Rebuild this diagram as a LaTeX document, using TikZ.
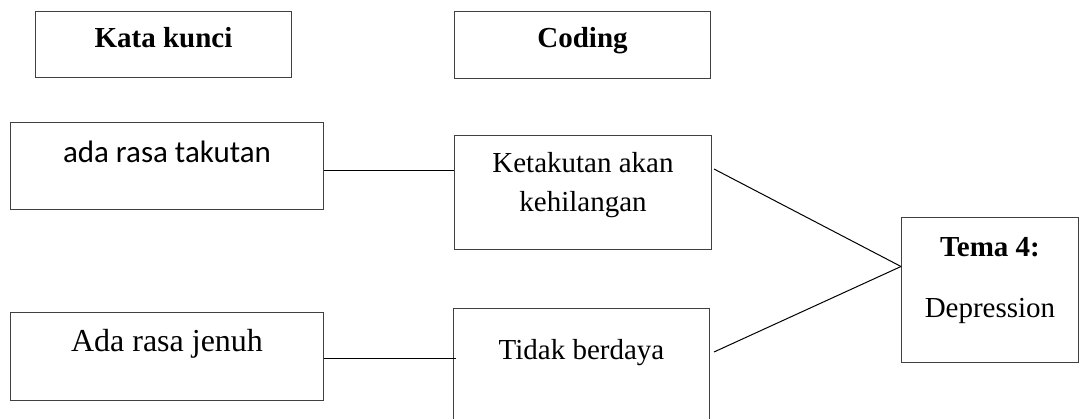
\documentclass[tikz,border=0pt]{standalone}
\usepackage{fontspec}
\setmainfont{Liberation Serif}
\newfontfamily\calfont{Carlito}
\usetikzlibrary{positioning}

\begin{document}
\begin{tikzpicture}[
    x=1pt, y=-1pt,
    box/.style={draw=black!75, line width=1pt, inner sep=0pt, anchor=north west},
    txt/.style={inner sep=0pt, anchor=base, font=\fontsize{29}{39}\selectfont},
    wire/.style={draw=black, line width=1pt}
]
\useasboundingbox (0,0) rectangle (1079,419);

% header boxes
\node[box, minimum width=256pt, minimum height=66pt] (kata) at (35,11) {};
\node[box, minimum width=256pt, minimum height=67pt] (coding) at (454,11) {};
\node[txt, font=\fontsize{29}{39}\selectfont\bfseries] (katat) at ([yshift=-37pt]kata.north) {Kata kunci};
\node[txt, font=\fontsize{29}{39}\selectfont\bfseries] (codingt) at ([yshift=-37pt]coding.north) {Coding};

% keywords and codes
\node[box, minimum width=313pt, minimum height=87pt] (ada) at (10,122) {};
\node[box, minimum width=257pt, minimum height=114pt] (ket) at (454,135) {};
\node[box, minimum width=313pt, minimum height=88pt] (jenuh) at (10,312) {};
\node[box, minimum width=256pt, minimum height=130pt] (tidak) at (453,308) {};
\node[txt, font=\fontsize{31}{39}\calfont] (adat) at ([yshift=-41pt]ada.north) {ada rasa takutan};
\node[txt, align=center] (kett) at ([yshift=-77pt]ket.north) {Ketakutan akan\\kehilangan};
\node[txt, font=\fontsize{32}{39}\selectfont] (jenuht) at ([yshift=-40pt]jenuh.north) {Ada rasa jenuh};
\node[txt] (tidakt) at ([yshift=-52pt]tidak.north) {Tidak berdaya};

% theme
\node[box, minimum width=177pt, minimum height=145pt] (tema) at (901,217) {};
\node[txt, font=\fontsize{29}{39}\selectfont\bfseries] (temat) at ([yshift=-40pt]tema.north) {Tema 4:};
\node[txt] (temad) at ([yshift=-101pt]tema.north) {Depression};
\coordinate (meet) at ([yshift=23.5pt]tema.west);

\draw[wire] ([yshift=-4.5pt]ada.east) -- ([yshift=-4.5pt]ada.east -| ket.west);
\draw[wire] ([yshift=-2pt]jenuh.east) -- ([xshift=3pt, yshift=-2pt]jenuh.east -| tidak.west);
\draw[wire] ([shift={(2pt,-34pt)}]ket.north east) -- (meet);
\draw[wire] ([shift={(4pt,-44pt)}]tidak.north east) -- (meet);
\end{tikzpicture}
\end{document}
